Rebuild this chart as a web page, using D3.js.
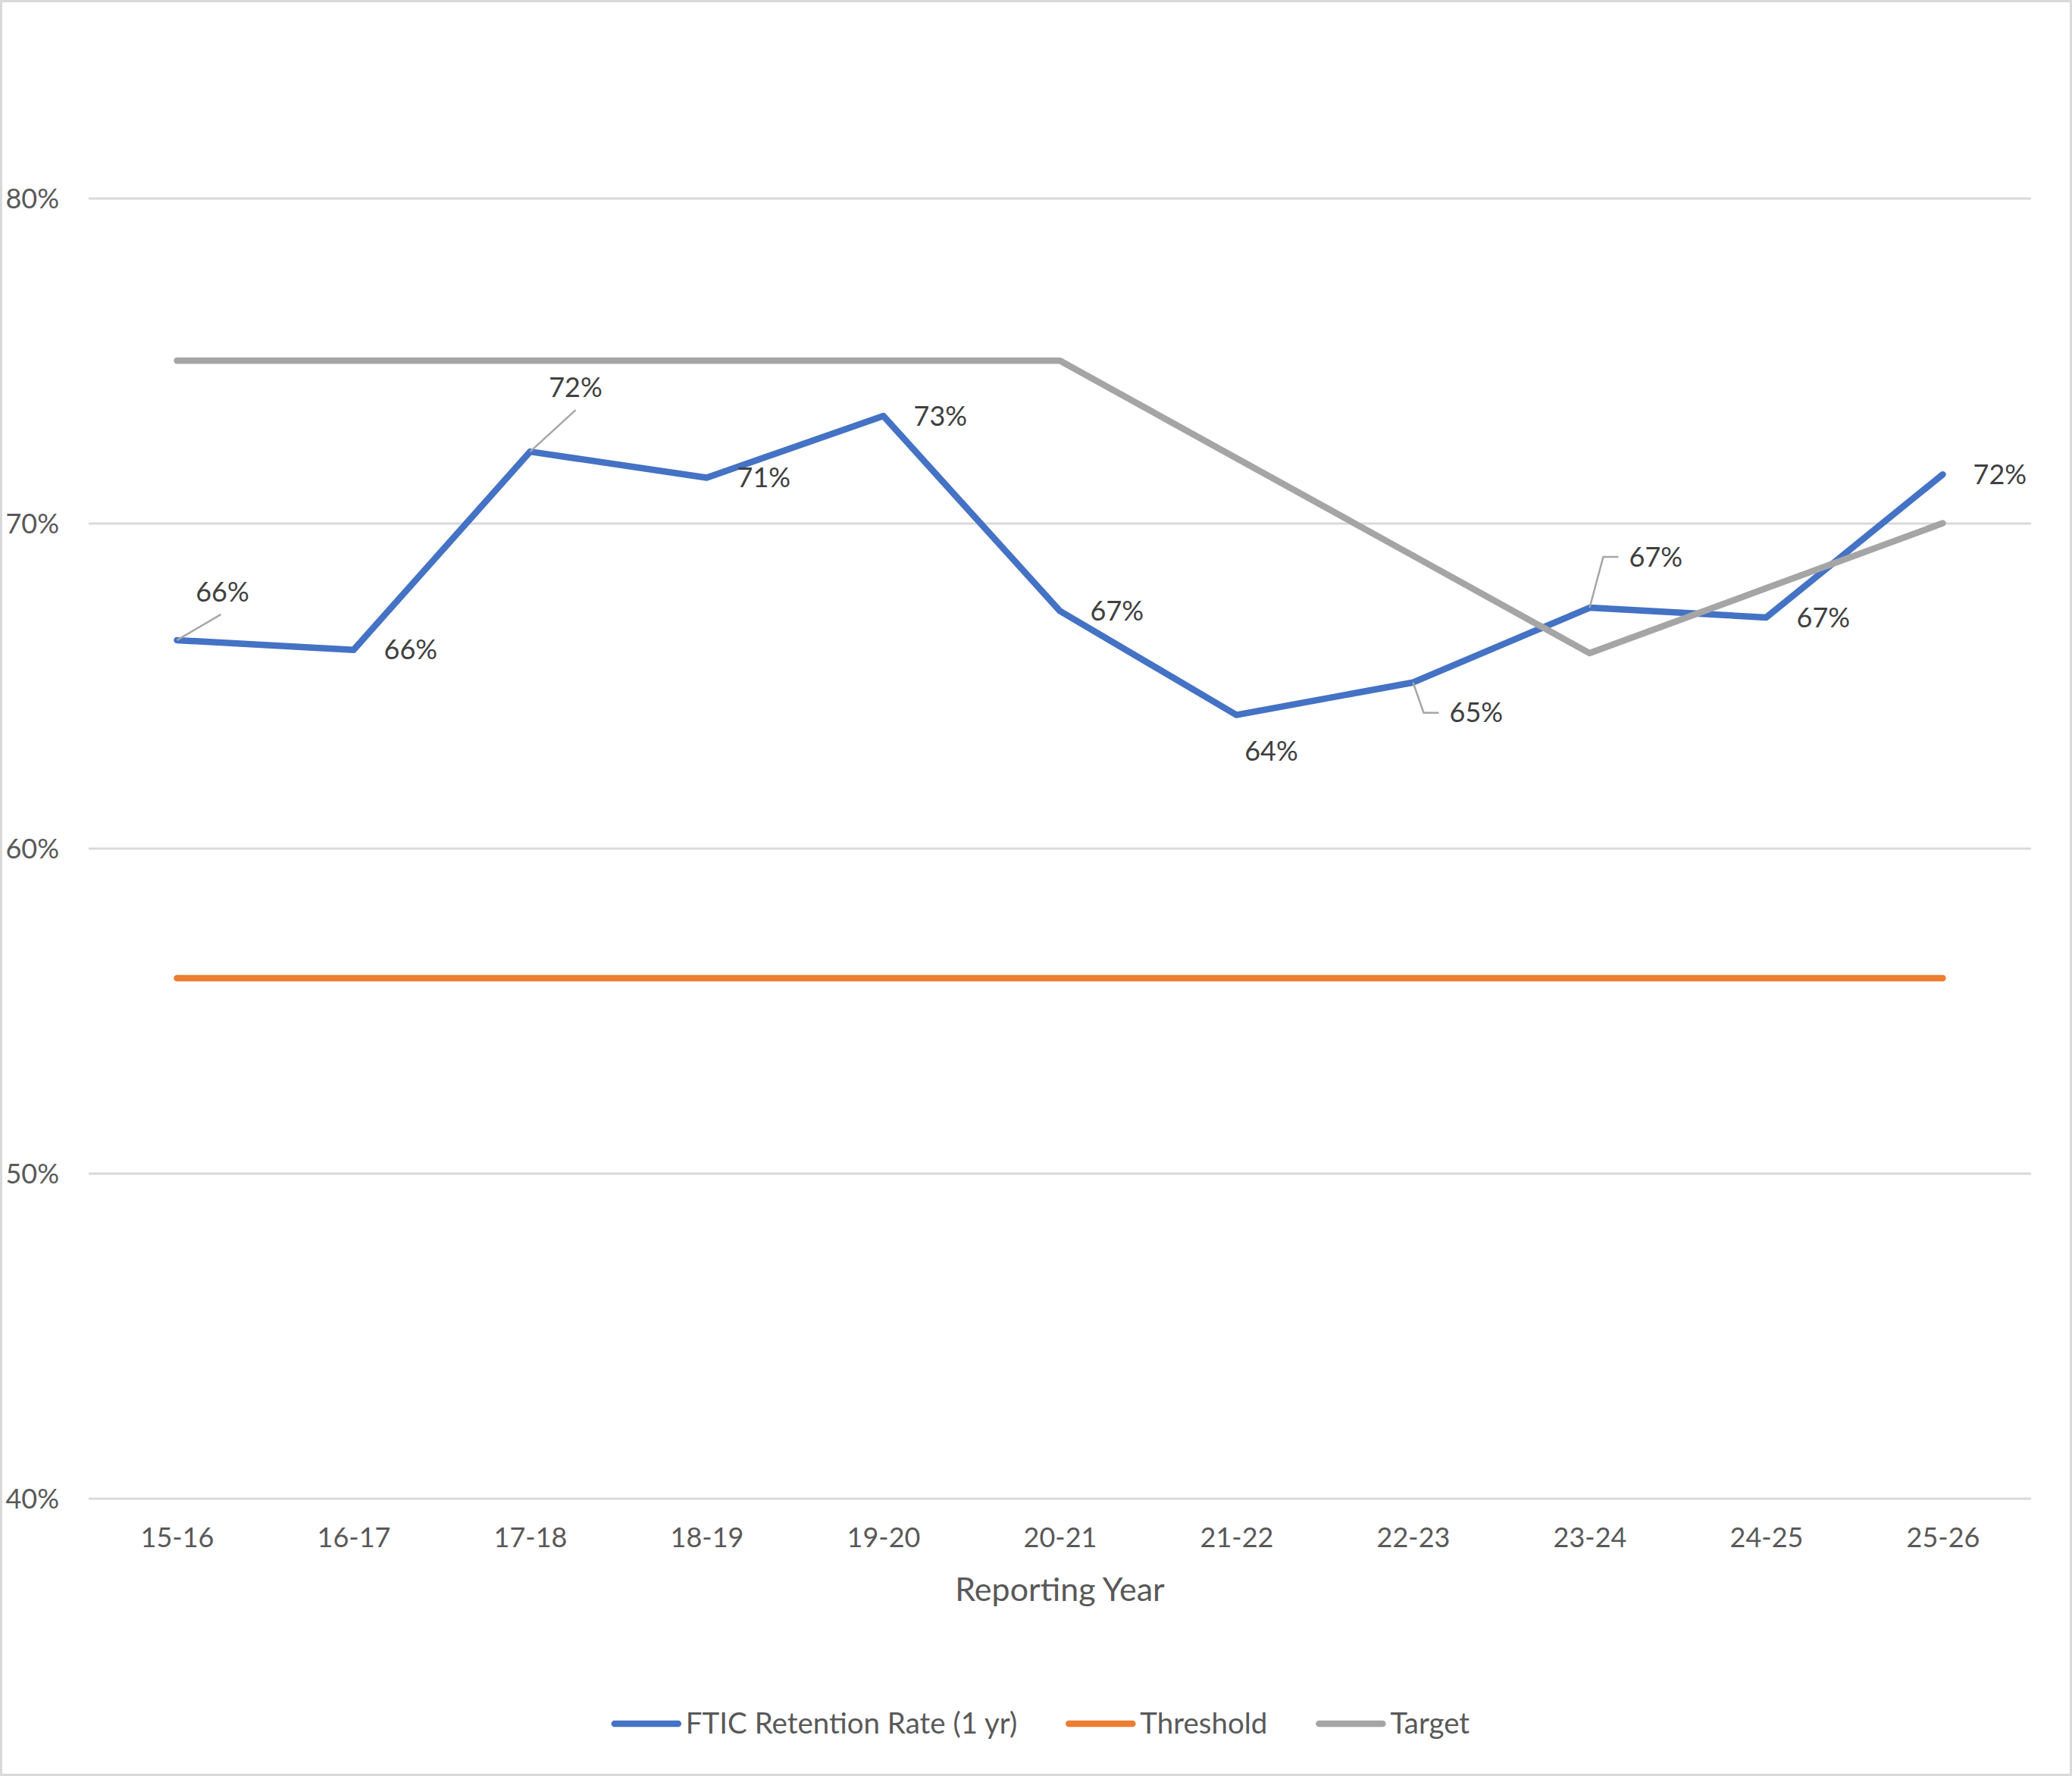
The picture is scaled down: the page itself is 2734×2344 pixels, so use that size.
<!DOCTYPE html>
<html>
<head>
<meta charset="utf-8">
<script src="https://cdn.jsdelivr.net/npm/d3@7"></script>
<style>
    body { margin: 0; background: #fff; }
    text { font-family: Lato, "Open Sans", sans-serif; }
</style>
</head>
<body>
<div id="chart"></div>
<script>
// chart data
var years = ["15-16", "16-17", "17-18", "18-19", "19-20", "20-21", "21-22", "22-23", "23-24", "24-25", "25-26"];
var retention = [0.664, 0.661, 0.722, 0.714, 0.733, 0.673, 0.641, 0.651, 0.674, 0.671, 0.715];
var threshold = [0.56, 0.56, 0.56, 0.56, 0.56, 0.56, 0.56, 0.56, 0.56, 0.56, 0.56];
var target = [0.75, 0.75, 0.75, 0.75, 0.75, 0.75, 0.72, 0.69, 0.66, 0.68, 0.70];
var yTicks = [0.4, 0.5, 0.6, 0.7, 0.8];
var seriesNames = ["FTIC Retention Rate (1 yr)", "Threshold", "Target"];

var totalWidth = 2734,
    totalHeight = 2344;

var margin = {top: 261.5, right: 54, bottom: 366.5, left: 117};
var width = totalWidth - margin.left - margin.right,
    height = totalHeight - margin.top - margin.bottom;

var colors = ["#4472c4", "#ed7d31", "#a5a5a5"];

// label placement for the retention series (offset of text from the point,
// plus an optional leader line), everything else sits to the right
var labelLayout = {
    0: {dx: 60, dy: -64, anchor: "middle", leader: [[0, 0], [58, -34]]},
    2: {dx: 60, dy: -85, anchor: "middle", leader: [[0, 0], [60, -55]]},
    6: {dx: 46, dy: 48, anchor: "middle"},
    7: {dx: 48, dy: 40, anchor: "start", leader: [[0, 0], [14, 40], [34, 40]]},
    8: {dx: 52, dy: -67, anchor: "start", leader: [[0, 0], [18, -67], [38, -67]]}
};

var svg = d3.select("#chart").append("svg")
    .attr("width", totalWidth)
    .attr("height", totalHeight);

svg.append("rect")
    .attr("x", 1.5).attr("y", 1.5)
    .attr("width", totalWidth - 3).attr("height", totalHeight - 3)
    .attr("fill", "#fff")
    .attr("stroke", "#d9d9d9")
    .attr("stroke-width", 3);

var g = svg.append("g")
    .attr("transform", "translate(" + margin.left + "," + margin.top + ")");

var xScale = d3.scalePoint().domain(years).range([0, width]).padding(0.5);
var yScale = d3.scaleLinear().domain([0.4, 0.8]).range([height, 0]);

// gridlines
var yAxis = d3.axisLeft(yScale)
    .tickValues(yTicks)
    .tickSize(-width)
    .tickFormat(d3.format(".0%"));

var yG = g.append("g").call(yAxis);
yG.select(".domain").remove();
yG.selectAll(".tick line")
    .attr("stroke", "#d9d9d9")
    .attr("stroke-width", 3);
yG.selectAll(".tick text")
    .attr("x", -39)
    .attr("dy", "0.35em")
    .attr("fill", "#595959")
    .style("font-size", "36px");

var xAxis = d3.axisBottom(xScale).tickSize(0);
var xG = g.append("g")
    .attr("transform", "translate(0," + height + ")")
    .call(xAxis);
xG.select(".domain").remove();
xG.selectAll(".tick text")
    .attr("y", 52)
    .attr("dy", "0.35em")
    .attr("fill", "#595959")
    .style("font-size", "36px");

g.append("text")
    .attr("x", xScale("20-21"))
    .attr("y", height + 120)
    .attr("dy", "0.35em")
    .attr("text-anchor", "middle")
    .attr("fill", "#595959")
    .style("font-size", "43px")
    .text("Reporting Year");

// lines
var line = d3.line()
    .x(function(d, i) { return xScale(years[i]); })
    .y(function(d) { return yScale(d); });

[retention, threshold, target].forEach(function(s, k) {
    g.append("path")
        .datum(s)
        .attr("fill", "none")
        .attr("stroke", colors[k])
        .attr("stroke-width", 8.5)
        .attr("stroke-linecap", "round")
        .attr("stroke-linejoin", "round")
        .attr("d", line);
});

// data labels
var fmt = d3.format(".0%");
var labels = g.append("g");
retention.forEach(function(v, i) {
    var px = xScale(years[i]),
        py = yScale(v);
    var lay = labelLayout[i] || {dx: 40, dy: 0, anchor: "start"};
    if (lay.leader) {
        labels.append("path")
            .attr("d", d3.line()(lay.leader.map(function(p) { return [px + p[0], py + p[1]]; })))
            .attr("fill", "none")
            .attr("stroke", "#a6a6a6")
            .attr("stroke-width", 2.5);
    }
    labels.append("text")
        .attr("x", px + lay.dx)
        .attr("y", py + lay.dy)
        .attr("dy", "0.35em")
        .attr("text-anchor", lay.anchor)
        .attr("fill", "#404040")
        .style("font-size", "36px")
        .text(fmt(v));
});

// legend
var legend = svg.append("g");
var lx = 0;
seriesNames.forEach(function(name, k) {
    var item = legend.append("g").attr("transform", "translate(" + lx + ",0)");
    item.append("line")
        .attr("x1", 4).attr("x2", 88)
        .attr("y1", 0).attr("y2", 0)
        .attr("stroke", colors[k])
        .attr("stroke-width", 8.5)
        .attr("stroke-linecap", "round");
    var t = item.append("text")
        .attr("x", 98)
        .attr("dy", "0.35em")
        .attr("fill", "#595959")
        .style("font-size", "38.5px")
        .text(name);
    lx += 98 + t.node().getComputedTextLength() + 64;
});
lx -= 64;
legend.attr("transform", "translate(" + ((totalWidth - lx) / 2 + 6) + ",2275)");
</script>
</body>
</html>
